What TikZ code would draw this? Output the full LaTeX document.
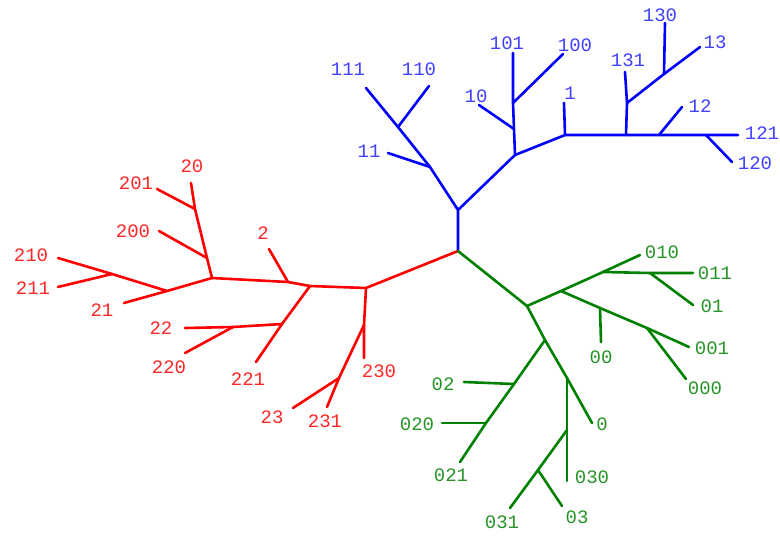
\documentclass[tikz,border=0pt]{standalone}
\usepackage{fontspec}
\setmonofont{Liberation Mono}
\usepackage{xcolor}
\definecolor{treegreen}{RGB}{0,128,0}

\begin{document}
\begin{tikzpicture}[x=1pt, y=-1pt,
        br/.style={line width=2.6pt, line cap=round, line join=round},
        lbl/.style={inner sep=0pt, font=\ttfamily\fontsize{19}{19}\selectfont}]
    \useasboundingbox (0,0) rectangle (780,536);
    % root
    \coordinate (r) at (458,251);

    % blue part
    \coordinate (b) at (458,210);
    \coordinate (b11) at (430,167);
    \coordinate (l11) at (388,153);
    \coordinate (b111) at (398,127);
    \coordinate (l111) at (366,88);
    \coordinate (l110) at (429,86);
    \coordinate (b1) at (515,155);
    \coordinate (b10) at (514,129);
    \coordinate (l10) at (479,105);
    \coordinate (b101) at (513,103);
    \coordinate (l101) at (513,53);
    \coordinate (l100) at (563,54);
    \coordinate (b1a) at (565,135);
    \coordinate (l1) at (564,103);
    \coordinate (b13) at (626,135);
    \coordinate (b13a) at (627,103);
    \coordinate (l131) at (625,72);
    \coordinate (b130) at (664,74);
    \coordinate (l130) at (665,23);
    \coordinate (l13) at (700,47);
    \coordinate (b12) at (659,135);
    \coordinate (l12) at (682,107);
    \coordinate (b120) at (706,135);
    \coordinate (l121) at (738,135);
    \coordinate (l120) at (732,162);
    \begin{scope}[blue, text=blue!75]
        \draw[br] (r) -- (b) -- (b11) -- (b111) -- (l111);
        \draw[br] (b11) -- (l11);
        \draw[br] (b111) -- (l110);
        \draw[br] (b) -- (b1) -- (b10) -- (b101) -- (l101);
        \draw[br] (b10) -- (l10);
        \draw[br] (b101) -- (l100);
        \draw[br] (b1) -- (b1a) -- (b13) -- (b12) -- (b120) -- (l121);
        \draw[br] (b1a) -- (l1);
        \draw[br] (b13) -- (b13a) -- (l131);
        \draw[br] (b13a) -- (b130) -- (l13);
        \draw[br] (b130) -- (l130);
        \draw[br] (b12) -- (l12);
        \draw[br] (b120) -- (l120);
        \node[lbl] (t11) at (369,151) {11};
        \node[lbl] (t111) at (348,69) {111};
        \node[lbl] (t110) at (419,69) {110};
        \node[lbl] (t10) at (476,96) {10};
        \node[lbl] (t101) at (507,43) {101};
        \node[lbl] (t100) at (575,45) {100};
        \node[lbl] (t1) at (570,93) {1};
        \node[lbl] (t131) at (628,60) {131};
        \node[lbl] (t130) at (660,15) {130};
        \node[lbl] (t13) at (715,42) {13};
        \node[lbl] (t12) at (700,106) {12};
        \node[lbl] (t121) at (762,133) {121};
        \node[lbl] (t120) at (755,163) {120};
    \end{scope}

    % red part
    \coordinate (r0) at (366,288);
    \coordinate (r23) at (364,325);
    \coordinate (l230) at (364,358);
    \coordinate (r231) at (339,378);
    \coordinate (l23) at (293,408);
    \coordinate (l231) at (327,407);
    \coordinate (r2a) at (310,286);
    \coordinate (r2b) at (288,282);
    \coordinate (l2) at (269,249);
    \coordinate (r22) at (282,324);
    \coordinate (l221) at (256,362);
    \coordinate (r220) at (233,327);
    \coordinate (l22) at (185,328);
    \coordinate (l220) at (185,353);
    \coordinate (r20) at (212,278);
    \coordinate (r200) at (207,258);
    \coordinate (r201) at (195,209);
    \coordinate (l20) at (191,183);
    \coordinate (l200) at (159,231);
    \coordinate (l201) at (157,189);
    \coordinate (r21) at (167,291);
    \coordinate (l21) at (124,303);
    \coordinate (r210) at (112,274);
    \coordinate (l210) at (58,258);
    \coordinate (l211) at (58,287);
    \begin{scope}[red, text=red!85]
        \draw[br] (r) -- (r0) -- (r23) -- (l230);
        \draw[br] (r23) -- (r231) -- (l23);
        \draw[br] (r231) -- (l231);
        \draw[br] (r0) -- (r2a) -- (r2b) -- (r20);
        \draw[br] (r2b) -- (l2);
        \draw[br] (r2a) -- (r22) -- (l221);
        \draw[br] (r22) -- (r220) -- (l22);
        \draw[br] (r220) -- (l220);
        \draw[br] (r20) -- (r200) -- (r201) -- (l20);
        \draw[br] (r200) -- (l200);
        \draw[br] (r201) -- (l201);
        \draw[br] (r20) -- (r21) -- (l21);
        \draw[br] (r21) -- (r210) -- (l210);
        \draw[br] (r210) -- (l211);
        \node[lbl] (t230) at (379,371) {230};
        \node[lbl] (t23) at (272,417) {23};
        \node[lbl] (t231) at (325,421) {231};
        \node[lbl] (t2) at (263,233) {2};
        \node[lbl] (t221) at (248,379) {221};
        \node[lbl] (t22) at (161,328) {22};
        \node[lbl] (t220) at (169,367) {220};
        \node[lbl] (t20) at (192,166) {20};
        \node[lbl] (t200) at (133,231) {200};
        \node[lbl] (t201) at (136,183) {201};
        \node[lbl] (t21) at (102,310) {21};
        \node[lbl] (t210) at (31,255) {210};
        \node[lbl] (t211) at (33,288) {211};
    \end{scope}

    % green part
    \coordinate (g0) at (527,306);
    \coordinate (g00) at (561,291);
    \coordinate (g01) at (603,272);
    \coordinate (l010) at (640,255);
    \coordinate (g011) at (650,273);
    \coordinate (l011) at (693,273);
    \coordinate (l01) at (693,305);
    \coordinate (g000) at (600,308);
    \coordinate (l00) at (601,342);
    \coordinate (g001) at (647,328);
    \coordinate (l001) at (689,347);
    \coordinate (l000) at (686,379);
    \coordinate (g02) at (545,340);
    \coordinate (g03) at (567,378);
    \coordinate (l0) at (592,423);
    \coordinate (g020) at (514,384);
    \coordinate (l02) at (464,382);
    \coordinate (g021) at (486,423);
    \coordinate (l020) at (442,423);
    \coordinate (l021) at (460,462);
    \coordinate (g030) at (567,430);
    \coordinate (l030) at (567,481);
    \coordinate (g031) at (538,470);
    \coordinate (l031) at (510,508);
    \coordinate (l03) at (562,506);
    \begin{scope}[treegreen, text=treegreen!85]
        \draw[br] (r) -- (g0) -- (g00) -- (g01) -- (l010);
        \draw[br] (g01) -- (g011) -- (l011);
        \draw[br] (g011) -- (l01);
        \draw[br] (g00) -- (g000) -- (g001) -- (l001);
        \draw[br] (g000) -- (l00);
        \draw[br] (g001) -- (l000);
        \draw[br] (g0) -- (g02) -- (g03) -- (l0);
        \draw[br] (g02) -- (g020) -- (g021) -- (l021);
        \draw[br] (g020) -- (l02);
        \draw[br] (g021) -- (l020);
        \draw[br] (g03) -- (g030) -- (l030);
        \draw[br] (g030) -- (g031) -- (l031);
        \draw[br] (g031) -- (l03);
        \node[lbl] (t010) at (662,252) {010};
        \node[lbl] (t011) at (715,273) {011};
        \node[lbl] (t01) at (712,306) {01};
        \node[lbl] (t00) at (601,357) {00};
        \node[lbl] (t001) at (712,348) {001};
        \node[lbl] (t000) at (705,388) {000};
        \node[lbl] (t0) at (602,424) {0};
        \node[lbl] (t02) at (443,384) {02};
        \node[lbl] (t020) at (417,424) {020};
        \node[lbl] (t021) at (451,475) {021};
        \node[lbl] (t030) at (592,477) {030};
        \node[lbl] (t031) at (502,522) {031};
        \node[lbl] (t03) at (577,517) {03};
    \end{scope}
\end{tikzpicture}
\end{document}
